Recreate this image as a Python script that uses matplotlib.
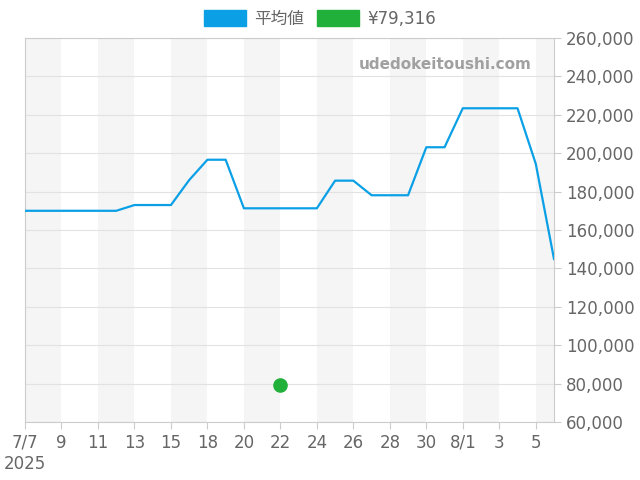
import matplotlib.pyplot as plt
from matplotlib.patches import Patch
from matplotlib.ticker import FuncFormatter

plt.rcParams['font.family'] = ['DejaVu Sans', 'Noto Sans CJK JP']

# Data
dates = ['7/7', '7/8', '7/9', '7/10', '7/11', '7/12', '7/13', '7/14', '7/15', '7/17',
         '7/18', '7/19', '7/20', '7/21', '7/22', '7/23', '7/24', '7/25', '7/26', '7/27',
         '7/28', '7/29', '7/30', '7/31', '8/1', '8/2', '8/3', '8/4', '8/5', '8/6']
avg_price = [170000, 170000, 170000, 170000, 170000, 170000, 173000, 173000, 173000, 186000,
             196600, 196600, 171300, 171300, 171300, 171300, 171300, 185700, 185700, 178100,
             178100, 178100, 203100, 203100, 223400, 223400, 223400, 223400, 194500, 144900]
tick_labels = ['7/7\n2025', '9', '11', '13', '15', '18', '20', '22', '24', '26', '28', '30', '8/1', '3', '5']
point_date = '7/22'
point_price = 79316

blue = '#0ba0e6'
green = '#21b03a'
text_col = '#666666'

fig = plt.figure(figsize=(6.4, 4.8), dpi=100)
ax = fig.add_axes([25 / 640, 58 / 480, 529 / 640, 384 / 480])

x = list(range(len(dates)))

# alternating bands
for start in range(0, len(dates), 4):
    ax.axvspan(start, min(start + 2, len(dates) - 1), color='#f5f5f5', lw=0, zorder=0)

ax.plot(x, avg_price, color=blue, lw=1.6, zorder=3)
ax.scatter([dates.index(point_date)], [point_price], s=90, color=green, zorder=4)

ax.set_xlim(0, len(dates) - 1)
ax.set_ylim(60000, 260000)
ax.set_xticks(range(0, len(dates), 2))
ax.set_xticklabels(tick_labels)
ax.set_yticks(range(60000, 260001, 20000))
ax.yaxis.set_major_formatter(FuncFormatter(lambda v, p: f'{int(v):,}'))
ax.yaxis.tick_right()
ax.tick_params(axis='both', colors='#cccccc', labelcolor=text_col, labelsize=12, length=5)
ax.grid(axis='y', color='#e2e2e2', lw=0.8, zorder=1)
for s in ax.spines.values():
    s.set_color('#cccccc')

ax.text(0.957, 0.932, 'udedokeitoushi.com', transform=ax.transAxes, ha='right', va='center',
        fontsize=11, fontweight='bold', color='#a0a0a0', zorder=5)

handles = [Patch(color=blue, label='平均値'), Patch(color=green, label=f'¥{point_price:,}')]
leg = fig.legend(handles=handles, loc='upper center', bbox_to_anchor=(0.5, 1.011), ncol=2,
                 frameon=False, fontsize=12, handlelength=2.5, handleheight=1.1,
                 columnspacing=0.8, handletextpad=0.5)
for t in leg.get_texts():
    t.set_color(text_col)
    t.set_family(['Noto Sans CJK JP', 'DejaVu Sans'])
for t in leg.get_texts()[1:]:
    t.set_family(['DejaVu Sans'])

fig.savefig('out.png', dpi=100)
